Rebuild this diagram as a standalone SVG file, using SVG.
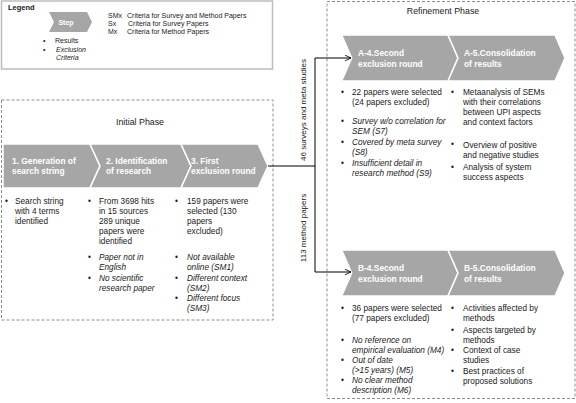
<svg xmlns="http://www.w3.org/2000/svg" width="576" height="403" viewBox="0 0 576 403">
<defs>
<style>
text{font-family:"Liberation Sans",Arial,sans-serif;fill:#1a1a1a;}
.b{font-size:8.25px;}
.i{font-size:8.25px;font-style:italic;}
.ch{fill:#a6a6a6;stroke:#fff;stroke-width:1.5;}
.ct{font-size:8.4px;font-weight:bold;fill:#fff;}
.dash{fill:none;stroke:#8c8c8c;stroke-width:1;stroke-dasharray:3,2;}
.lg{font-size:7px;}
.rl{font-size:8px;}
.conn{fill:none;stroke:#000;stroke-width:1;}
</style>
<marker id="arr" viewBox="0 0 10 10" refX="9.5" refY="5" markerWidth="7" markerHeight="7" orient="auto" markerUnits="userSpaceOnUse">
<path d="M1,1 L9.5,5 L1,9" fill="none" stroke="#000" stroke-width="1.2"/>
</marker>
</defs>
<rect width="576" height="403" fill="#fff"/>

<g id="legend">
<rect x="1.5" y="1" width="271" height="68" fill="none" stroke="#bdbdbd" stroke-width="1.5"/>
<text x="8" y="10" style="font-size:7.5px;font-weight:bold">Legend</text>
<path d="M49,12 L87,12 L92,22 L87,32 L49,32 L54,22 Z" fill="#a6a6a6"/>
<text x="66" y="24.5" text-anchor="middle" style="font-size:7px;font-weight:bold;fill:#fff">Step</text>
<text class="lg" x="108" y="17.5">SMx</text><text class="lg" x="127" y="17.5">Criteria for Survey and Method  Papers</text>
<text class="lg" x="108" y="25.5">Sx</text><text class="lg" x="128" y="25.5">Criteria for Survey Papers</text>
<text class="lg" x="108" y="33.5">Mx</text><text class="lg" x="127" y="33.5">Criteria for Method  Papers</text>
<text class="lg" x="43" y="43">•</text><text class="lg" x="55" y="43">Results</text>
<text class="lg" x="43" y="51.5">•</text><text class="lg" x="56" y="51.5" font-style="italic">Exclusion</text>
<text class="lg" x="56" y="59.5" font-style="italic">Criteria</text>
</g>

<g id="initial-phase">
<rect class="dash" x="1.5" y="100" width="271.5" height="220"/>
<text x="140" y="125" text-anchor="middle" style="font-size:8.8px">Initial Phase</text>
</g>

<g id="step1">
<path class="ch" d="M3,144 L90,144 L100,166 L90,188 L3,188 Z"/>
<text class="ct" x="12" y="163.5">1. Generation of</text>
<text class="ct" x="12" y="174">search string</text>
<text class="b" x="5" y="204">•</text>
<text class="b" x="15" y="204">Search string</text>
<text class="b" x="15" y="214">with 4 terms</text>
<text class="b" x="15" y="224">identified</text>
</g>

<g id="step2">
<path class="ch" d="M90,144 L181,144 L191,166 L181,188 L90,188 L100,166 Z"/>
<text class="ct" x="106" y="163.5">2. Identification</text>
<text class="ct" x="106" y="174">of research</text>
<text class="b" x="88" y="204">•</text>
<text class="b" x="99" y="204">From 3698 hits</text>
<text class="b" x="99" y="214">in 15 sources</text>
<text class="b" x="99" y="224">289 unique</text>
<text class="b" x="99" y="234">papers were</text>
<text class="b" x="99" y="244">identified</text>
<text class="b" x="88" y="260">•</text>
<text class="i" x="99" y="260">Paper not in</text>
<text class="i" x="99" y="270">English</text>
<text class="b" x="88" y="280.5">•</text>
<text class="i" x="99" y="280.5">No scientific</text>
<text class="i" x="99" y="290.5">research paper</text>
</g>

<g id="step3">
<path class="ch" d="M181,144 L258,144 L268,166 L258,188 L181,188 L191,166 Z"/>
<text class="ct" x="191" y="163.5">3. First</text>
<text class="ct" x="191" y="174">exclusion round</text>
<text class="b" x="175" y="204">•</text>
<text class="b" x="187" y="204">159 papers were</text>
<text class="b" x="187" y="214">selected  (130</text>
<text class="b" x="187" y="224">papers</text>
<text class="b" x="187" y="234">excluded)</text>
<text class="b" x="175" y="260">•</text>
<text class="i" x="187" y="260">Not available</text>
<text class="i" x="187" y="270">online (SM1)</text>
<text class="b" x="175" y="280.5">•</text>
<text class="i" x="187" y="280.5">Different context</text>
<text class="i" x="187" y="290.5">(SM2)</text>
<text class="b" x="175" y="301">•</text>
<text class="i" x="187" y="301">Different focus</text>
<text class="i" x="187" y="311">(SM3)</text>
</g>

<g id="refinement-phase">
<rect class="dash" x="327" y="1.5" width="248" height="397"/>
<text x="443" y="14" text-anchor="middle" style="font-size:8.8px">Refinement Phase</text>
</g>

<g id="stepA4">
<path class="ch" d="M341.7,35 L448,35 L458,58 L448,81 L341.7,81 L351.7,58 Z"/>
<text class="ct" x="358" y="56">A-4.Second</text>
<text class="ct" x="358" y="66.5">exclusion round</text>
<text class="b" x="341" y="95">•</text>
<text class="b" x="352" y="95">22 papers were selected</text>
<text class="b" x="352" y="105">(24 papers excluded)</text>
<text class="b" x="341" y="123.5">•</text>
<text class="i" x="352" y="123.5">Survey w/o correlation for</text>
<text class="i" x="352" y="133.5">SEM (S7)</text>
<text class="b" x="341" y="144.5">•</text>
<text class="i" x="352" y="144.5">Covered by meta survey</text>
<text class="i" x="352" y="154.5">(S8)</text>
<text class="b" x="341" y="166">•</text>
<text class="i" x="352" y="166">Insufficient detail in</text>
<text class="i" x="352" y="176">research method (S9)</text>
</g>

<g id="stepA5">
<path class="ch" d="M448,35 L555,35 L565,58 L555,81 L448,81 L458,58 Z"/>
<text class="ct" x="464" y="56">A-5.Consolidation</text>
<text class="ct" x="464" y="66.5">of results</text>
<text class="b" x="451" y="95">•</text>
<text class="b" x="463" y="95">Metaanalysis of  SEMs</text>
<text class="b" x="463" y="105">with their correlations</text>
<text class="b" x="463" y="115">between UPI aspects</text>
<text class="b" x="463" y="125">and context factors</text>
<text class="b" x="451" y="146.5">•</text>
<text class="b" x="463" y="147.5">Overview of positive</text>
<text class="b" x="463" y="157.5">and negative studies</text>
<text class="b" x="451" y="169.5">•</text>
<text class="b" x="463" y="169.5">Analysis of system</text>
<text class="b" x="463" y="179.5">success aspects</text>
</g>

<g id="stepB4">
<path class="ch" d="M341.7,250 L448,250 L458,273 L448,296 L341.7,296 L351.7,273 Z"/>
<text class="ct" x="358" y="271">B-4.Second</text>
<text class="ct" x="358" y="281.5">exclusion round</text>
<text class="b" x="341" y="310.5">•</text>
<text class="b" x="352" y="310.5">36 papers were selected</text>
<text class="b" x="352" y="320.5">(77 papers excluded)</text>
<text class="b" x="341" y="343">•</text>
<text class="i" x="352" y="343">No reference on</text>
<text class="i" x="352" y="353">empirical evaluation (M4)</text>
<text class="b" x="341" y="363">•</text>
<text class="i" x="352" y="363">Out of date</text>
<text class="i" x="352" y="373">(&gt;15 years) (M5)</text>
<text class="b" x="341" y="383">•</text>
<text class="i" x="352" y="383">No clear method</text>
<text class="i" x="352" y="393">description (M6)</text>
</g>

<g id="stepB5">
<path class="ch" d="M448,250 L555,250 L565,273 L555,296 L448,296 L458,273 Z"/>
<text class="ct" x="464" y="271">B-5.Consolidation</text>
<text class="ct" x="464" y="281.5">of results</text>
<text class="b" x="451" y="310.5">•</text>
<text class="b" x="463" y="310.5">Activities affected by</text>
<text class="b" x="463" y="320.5">methods</text>
<text class="b" x="451" y="332.5">•</text>
<text class="b" x="463" y="332.5">Aspects targeted by</text>
<text class="b" x="463" y="342.5">methods</text>
<text class="b" x="451" y="353">•</text>
<text class="b" x="463" y="353">Context of  case</text>
<text class="b" x="463" y="363">studies</text>
<text class="b" x="451" y="373.5">•</text>
<text class="b" x="463" y="373.5">Best practices of</text>
<text class="b" x="463" y="383.5">proposed solutions</text>
</g>

<g id="connectors">
<path class="conn" d="M268,166 L315,166"/>
<path class="conn" d="M315,166 L315,58 L351,58" marker-end="url(#arr)"/>
<path class="conn" d="M315,166 L315,272 L351,272" marker-end="url(#arr)"/>
<text class="rl" transform="translate(306,110) rotate(-90)" text-anchor="middle">46 surveys and meta studies</text>
<text class="rl" transform="translate(306,228) rotate(-90)" text-anchor="middle">113 method papers</text>
</g>
</svg>
